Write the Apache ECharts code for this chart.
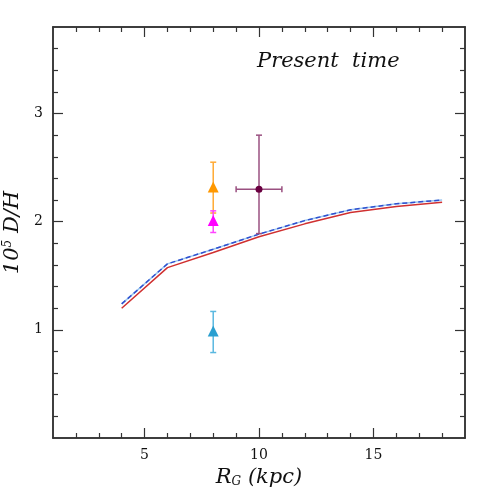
<!DOCTYPE html>
<html>
<head>
<meta charset="utf-8">
<script src="https://cdn.jsdelivr.net/npm/echarts@6/dist/echarts.min.js"></script>
<style>
  html, body { margin: 0; padding: 0; background: #fff; }
  #chart { width: 491px; height: 491px; }
</style>
</head>
<body>
<div id="chart"></div>
<script>
// model curves, galactocentric radius vs 10^5 D/H
const radius = [4, 6, 8, 10, 12, 14, 16, 18]
const modelRed = [1.20, 1.575, 1.715, 1.86, 1.98, 2.085, 2.14, 2.18]
const modelBlue = [1.24, 1.61, 1.745, 1.885, 2.01, 2.11, 2.165, 2.20]

// observations: [x, y, yLow, yHigh, xLow, xHigh]
const obsOrange = [[8, 2.32, 2.08, 2.55, 8, 8]]
const obsMagenta = [[8, 2.01, 1.90, 2.10, 8, 8]]
const obsCyan = [[8, 0.99, 0.79, 1.17, 8, 8]]
const obsPurple = [[10, 2.30, 1.89, 2.80, 9, 11]]

const xMajor = [5, 10, 15]
const xMinor = [2, 3, 4, 6, 7, 8, 9, 11, 12, 13, 14, 16, 17, 18]
const yMajor = [1, 2, 3]
const yMinor = [0.2, 0.4, 0.6, 0.8, 1.2, 1.4, 1.6, 1.8, 2.2, 2.4, 2.6, 2.8, 3.2, 3.4, 3.6]

const frame = '#333'
const serif = 'DejaVu Serif'

function axisSet(dim, pos, ticks, len, labels, extra) {
    const base = {
        type: 'value',
        position: pos,
        min: dim === 'x' ? 1 : 0,
        max: dim === 'x' ? 19 : 3.8,
        splitLine: { show: false },
        axisLine: { show: true, onZero: false, lineStyle: { color: frame, width: 1.5 } },
        axisTick: { show: true, inside: true, length: len, customValues: ticks,
                    lineStyle: { color: frame, width: 1.2 } },
        axisLabel: labels
            ? { show: true, customValues: ticks, color: '#111', fontFamily: serif, fontSize: 14, margin: 10 }
            : { show: false }
    }
    return Object.assign(base, extra || {})
}

function errorBars(color, cap) {
    return function (params, api) {
        const x = api.value(0), y = api.value(1)
        const lo = api.coord([x, api.value(2)])
        const hi = api.coord([x, api.value(3)])
        const xl = api.coord([api.value(4), y])
        const xh = api.coord([api.value(5), y])
        const style = { stroke: color, lineWidth: 1.5 }
        const kids = [
            { type: 'line', shape: { x1: lo[0], y1: lo[1], x2: hi[0], y2: hi[1] }, style },
            { type: 'line', shape: { x1: lo[0] - cap, y1: lo[1], x2: lo[0] + cap, y2: lo[1] }, style },
            { type: 'line', shape: { x1: hi[0] - cap, y1: hi[1], x2: hi[0] + cap, y2: hi[1] }, style }
        ]
        if (xh[0] - xl[0] > 1) {
            kids.push(
                { type: 'line', shape: { x1: xl[0], y1: xl[1], x2: xh[0], y2: xh[1] }, style },
                { type: 'line', shape: { x1: xl[0], y1: xl[1] - cap, x2: xl[0], y2: xl[1] + cap }, style },
                { type: 'line', shape: { x1: xh[0], y1: xh[1] - cap, x2: xh[0], y2: xh[1] + cap }, style }
            )
        }
        return { type: 'group', children: kids }
    }
}

function obsSeries(data, color, barColor, symbol, size) {
    return [
        { type: 'custom', renderItem: errorBars(barColor, 3), data: data, z: 3,
          encode: { x: 0, y: 1 } },
        { type: 'scatter', data: data.map(d => [d[0], d[1]]), symbol: symbol, symbolSize: size,
          itemStyle: { color: color, opacity: 1 }, z: 4 }
    ]
}

const myChart = echarts.init(document.getElementById('chart'))
const option = {
    animation: false,
    grid: { left: 53, right: 26, top: 27, bottom: 53, outerBoundsMode: 'none', containLabel: false },
    graphic: [{
        type: 'text', left: 257, top: 51,
        style: { text: 'Present  time', fontFamily: serif, fontStyle: 'italic', fontSize: 21, fill: '#111' }
    }],
    xAxis: [
        axisSet('x', 'bottom', xMajor, 10, true, {
            name: '{i|R}{s|G}{i| (kpc)}', nameLocation: 'middle', nameGap: 26,
            nameTextStyle: { rich: {
                i: { fontFamily: serif, fontStyle: 'italic', fontSize: 21, color: '#111' },
                s: { fontFamily: serif, fontStyle: 'italic', fontSize: 12, color: '#111', verticalAlign: 'bottom', padding: [8, 0, 0, 0] }
            } }
        }),
        axisSet('x', 'bottom', xMinor, 5, false),
        axisSet('x', 'top', xMajor, 10, false),
        axisSet('x', 'top', xMinor, 5, false)
    ],
    yAxis: [
        axisSet('y', 'left', yMajor, 10, true, {
            name: '{i|10}{s|5}{i| D/H}', nameLocation: 'middle', nameGap: 26,
            nameTextStyle: { rich: {
                i: { fontFamily: serif, fontStyle: 'italic', fontSize: 21, color: '#111' },
                s: { fontFamily: serif, fontStyle: 'italic', fontSize: 12, color: '#111', verticalAlign: 'top', padding: [0, 0, 8, 0] }
            } }
        }),
        axisSet('y', 'left', yMinor, 5, false),
        axisSet('y', 'right', yMajor, 10, false),
        axisSet('y', 'right', yMinor, 5, false)
    ],
    series: [
        { type: 'line', data: radius.map((r, i) => [r, modelRed[i]]), showSymbol: false,
          lineStyle: { color: '#d03030', width: 1.5 }, z: 2 },
        { type: 'line', data: radius.map((r, i) => [r, modelBlue[i]]), showSymbol: false,
          lineStyle: { color: '#9cc8f0', width: 1.5 }, z: 2 },
        { type: 'line', data: radius.map((r, i) => [r, modelBlue[i]]), showSymbol: false,
          lineStyle: { color: '#2f4fcf', width: 1.5, type: [5, 3] }, z: 2 },
        ...obsSeries(obsOrange, '#ff9800', '#ffaa33', 'triangle', 11),
        ...obsSeries(obsMagenta, '#ff00ff', '#ff44ff', 'triangle', 11),
        ...obsSeries(obsCyan, '#2a9fd0', '#5ab8e0', 'triangle', 11),
        ...obsSeries(obsPurple, '#6a0040', '#9a5080', 'circle', 7)
    ]
}
myChart.setOption(option)
</script>
</body>
</html>
